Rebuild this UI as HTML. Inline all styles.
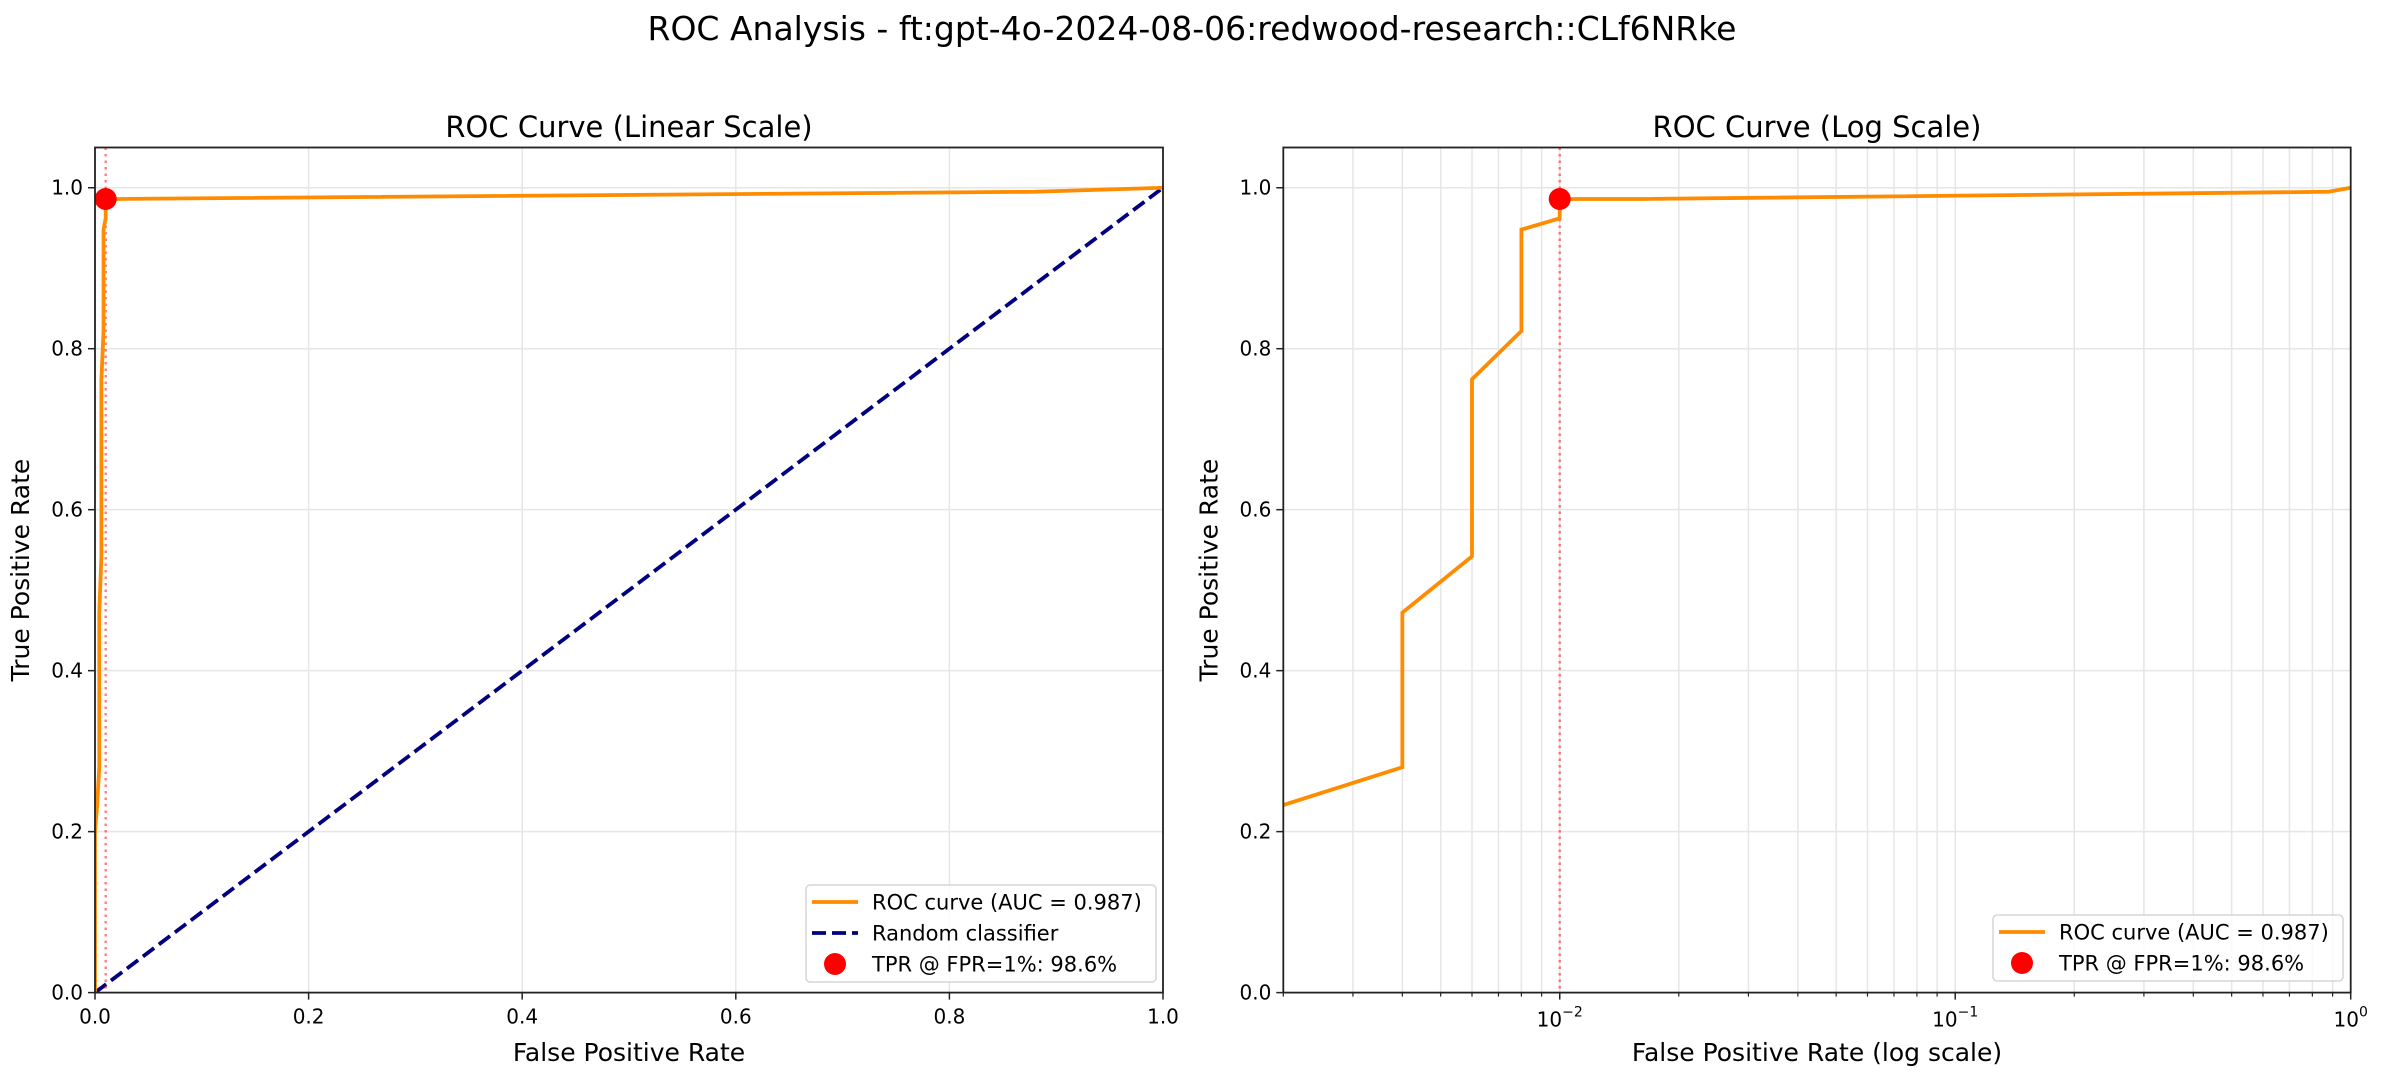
<!DOCTYPE html>
<html><head><meta charset="utf-8"><style>
html,body{margin:0;padding:0;background:#fff;}
svg{display:block;font-family:"DejaVu Sans","Liberation Sans",sans-serif;}
</style></head><body>
<svg id="chart" width="2384" height="1080" viewBox="0 0 2384 1080" xmlns="http://www.w3.org/2000/svg">
<rect width="2384" height="1080" fill="#fff"/>
<text x="1192" y="40" font-size="33" text-anchor="middle" fill="#000">ROC Analysis - ft:gpt-4o-2024-08-06:redwood-research::CLf6NRke</text>
<g id="left"></g>
<g id="right"></g>
</svg>
<script>
const fprValues = [0, 0, 0.002, 0.004, 0.004, 0.006, 0.006, 0.008, 0.008, 0.01, 0.01, 0.016, 0.88, 1];
const tprValues = [0, 0.2, 0.233, 0.28, 0.472, 0.542, 0.762, 0.822, 0.948, 0.962, 0.986, 0.986, 0.995, 1];
const randomX = [0, 1];
const randomY = [0, 1];
const markerFpr = [0.01];
const markerTpr = [0.986];
const yTicks = [0, 0.2, 0.4, 0.6, 0.8, 1.0];
const yTickLabels = ["0.0", "0.2", "0.4", "0.6", "0.8", "1.0"];
const xTicksLin = [0, 0.2, 0.4, 0.6, 0.8, 1.0];
const xTickLabelsLin = ["0.0", "0.2", "0.4", "0.6", "0.8", "1.0"];
const logDecades = [-2, -1, 0];
const aucLabel = "ROC curve (AUC = 0.987)";
const markerLabel = "TPR @ FPR=1%: 98.6%";

const NS = "http://www.w3.org/2000/svg";
function mk(parent, tag, attrs, text) {
  const e = document.createElementNS(NS, tag);
  for (const k in attrs) e.setAttribute(k, attrs[k]);
  if (text !== undefined) e.textContent = text;
  parent.appendChild(e);
  return e;
}
const axTop = 147.5, axBot = 992.6;
const yScale = v => axBot - (v / 1.05) * (axBot - axTop);

function drawPanel(g, L, R, xs, isLog, title, xlabel, showRandom, legend) {
  const clipId = "clip" + Math.round(L);
  const defs = mk(g, "defs", {});
  const cp = mk(defs, "clipPath", {id: clipId});
  mk(cp, "rect", {x: L, y: axTop, width: R - L, height: axBot - axTop});
  const grid = mk(g, "g", {});
  
  
  yTicks.forEach((t, i) => {
    const y = yScale(t);
    mk(grid, "line", {x1: L, x2: R, y1: y, y2: y, stroke: "#e6e6e6", "stroke-width": 1.5});
    mk(g, "line", {x1: L - 7, x2: L, y1: y, y2: y, stroke: "#222", "stroke-width": 1.5});
    const tl = mk(g, "text", {x: L - 12, y: y + 7, "font-size": 20, "text-anchor": "end", fill: "#000"}, yTickLabels[i]);
    
    
  });
  if (!isLog) {
    xTicksLin.forEach((t, i) => {
      const x = xs(t);
      mk(grid, "line", {x1: x, x2: x, y1: axTop, y2: axBot, stroke: "#e6e6e6", "stroke-width": 1.5});
      mk(g, "line", {x1: x, x2: x, y1: axBot, y2: axBot + 7, stroke: "#222", "stroke-width": 1.5});
      const tl = mk(g, "text", {x: x, y: axBot + 31, "font-size": 20, "text-anchor": "middle", fill: "#000"}, xTickLabelsLin[i]);
      
      
    });
  } else {
    for (let d = -3; d <= 0; d++) {
      for (let m = 1; m <= 9; m++) {
        const v = m * Math.pow(10, d);
        if (v < 0.002 - 1e-9 || v > 1 + 1e-9) continue;
        const x = xs(v);
        mk(grid, "line", {x1: x, x2: x, y1: axTop, y2: axBot, stroke: "#e6e6e6", "stroke-width": 1.5});
        mk(g, "line", {x1: x, x2: x, y1: axBot, y2: axBot + (m === 1 ? 7 : 4), stroke: "#222", "stroke-width": m === 1 ? 1.5 : 1.2});
      }
    }
    logDecades.forEach(d => {
      const x = xs(Math.pow(10, d));
      const tl = mk(g, "text", {x: x, y: axBot + 34, "font-size": 20, "text-anchor": "middle", fill: "#000"});
      
      
      mk(tl, "tspan", {}, "10");
      mk(tl, "tspan", {dy: -10, "font-size": 14}, d === 0 ? "0" : "\u2212" + Math.abs(d));
    });
  }
  const plot = mk(g, "g", {"clip-path": "url(#" + clipId + ")"});
  if (showRandom) {
    const rp = mk(plot, "polyline", {points: randomX.map((v, i) => xs(v) + "," + yScale(randomY[i])).join(" "), fill: "none", stroke: "#000080", "stroke-width": 3.8, "stroke-dasharray": "14,6"});
    
    
  }
  const vx = xs(markerFpr[0]);
  const vl = mk(plot, "line", {x1: vx, x2: vx, y1: axTop, y2: axBot, stroke: "#ff0000", "stroke-opacity": 0.5, "stroke-width": 2.4, "stroke-dasharray": "2.5,4"});
  
  
  const pts = [];
  fprValues.forEach((f, i) => { if (!isLog || f > 0) pts.push(xs(f) + "," + yScale(tprValues[i])); });
  const rc = mk(plot, "polyline", {points: pts.join(" "), fill: "none", stroke: "#ff8c00", "stroke-width": 3.8, "stroke-linejoin": "miter"});
  
  
  const mc = mk(g, "circle", {cx: xs(markerFpr[0]), cy: yScale(markerTpr[0]), r: 11, fill: "#ff0000"});
  
  
  const fr = mk(g, "rect", {x: L, y: axTop, width: R - L, height: axBot - axTop, fill: "none", stroke: "#222", "stroke-width": 1.8});
  
  
  const cx = (L + R) / 2;
  const st = mk(g, "text", {x: cx, y: 137, "font-size": 29, "text-anchor": "middle", fill: "#000"}, title);
  
  
  const xl = mk(g, "text", {x: cx, y: 1061, "font-size": 25, "text-anchor": "middle", fill: "#000"}, xlabel);
  
  
  const ylx = L - 66, yly = (axTop + axBot) / 2;
  const yl = mk(g, "text", {x: ylx, y: yly, "font-size": 25, "text-anchor": "middle", fill: "#000", transform: "rotate(-90 " + ylx + " " + yly + ")"}, "True Positive Rate");
  
  
  const lg = mk(g, "g", {});
  
  
  mk(lg, "rect", {x: legend.x, y: legend.y, width: legend.w, height: legend.h, rx: 4, fill: "#fff", "fill-opacity": 0.8, stroke: "#d6d6d6", "stroke-width": 1.5});
  let ry = legend.y + 17;
  const hx = legend.x + 6, tx = legend.x + 66;
  legend.items.forEach(it => {
    const e = mk(lg, "g", {});
    
    
    if (it.type === "line") mk(e, "line", {x1: hx, x2: hx + 46, y1: ry, y2: ry, stroke: "#ff8c00", "stroke-width": 3.8});
    if (it.type === "dash") mk(e, "line", {x1: hx, x2: hx + 46, y1: ry, y2: ry, stroke: "#000080", "stroke-width": 3.8, "stroke-dasharray": "14,6"});
    if (it.type === "dot") mk(e, "circle", {cx: hx + 23, cy: ry, r: 11, fill: "#ff0000"});
    mk(e, "text", {x: tx, y: ry + 7.5, "font-size": 21, fill: "#000"}, it.label);
    ry += 31;
  });
}

const linL = 95, linR = 1163;
const linX = v => linL + v * (linR - linL);
const logL = 1283.3, logR = 2350.7;
const lmin = Math.log10(0.002), lmax = 0;
const logX = v => logL + (Math.log10(v) - lmin) / (lmax - lmin) * (logR - logL);

const gl = document.getElementById("left");


drawPanel(gl, linL, linR, linX, false, "ROC Curve (Linear Scale)", "False Positive Rate", true,
  {x: 806, y: 885, w: 350, h: 97, items: [{type: "line", label: aucLabel}, {type: "dash", label: "Random classifier"}, {type: "dot", label: markerLabel}]});
const gr = document.getElementById("right");


drawPanel(gr, logL, logR, logX, true, "ROC Curve (Log Scale)", "False Positive Rate (log scale)", false,
  {x: 1993, y: 915, w: 350, h: 66, items: [{type: "line", label: aucLabel}, {type: "dot", label: markerLabel}]});
</script>
</body></html>
